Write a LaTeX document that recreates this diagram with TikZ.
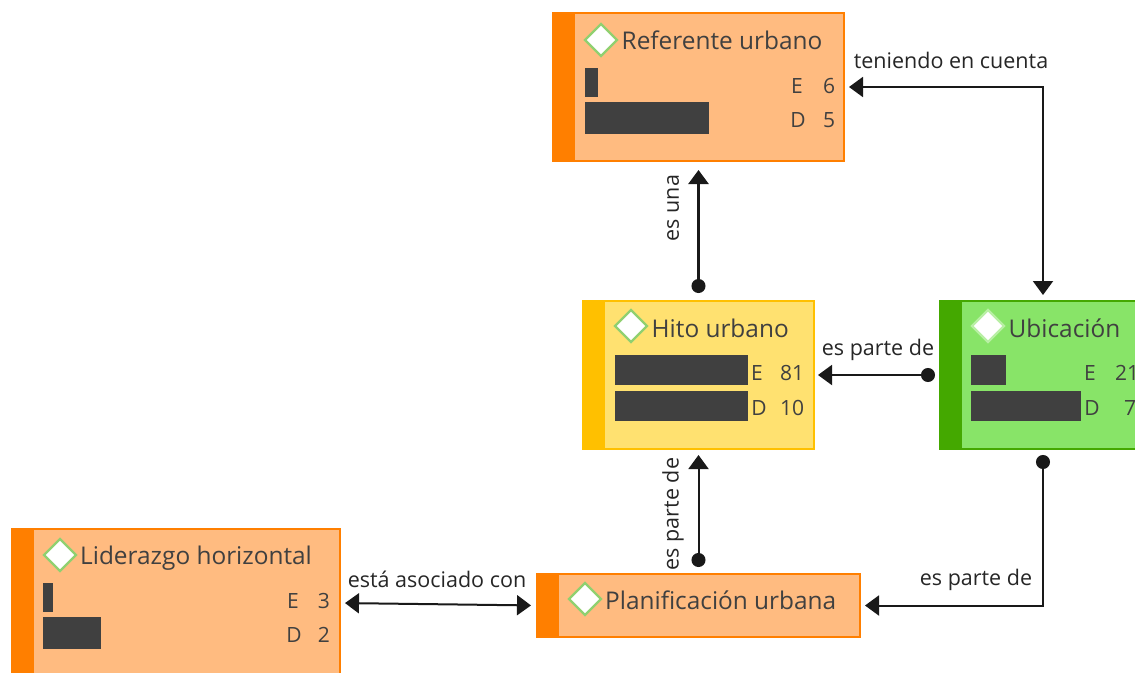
\documentclass[tikz,border=0pt]{standalone}
\usepackage{fontspec}
\setmainfont{Open Sans}
\usetikzlibrary{arrows.meta,shapes.geometric}
\definecolor{orf}{HTML}{FFBB80}
\definecolor{ors}{HTML}{FF7F00}
\definecolor{yef}{HTML}{FFE170}
\definecolor{yes}{HTML}{FFC000}
\definecolor{grf}{HTML}{88E468}
\definecolor{grs}{HTML}{44A800}
\definecolor{ink}{HTML}{404040}
\definecolor{dia}{HTML}{90D070}
\tikzset{
 x=1pt,y=-1pt,
 box/.style={rectangle,draw,line width=1.4pt,inner sep=0,outer sep=0},
 orbox/.style={box,fill=orf,draw=ors},
 yebox/.style={box,fill=yef,draw=yes},
 grbox/.style={box,fill=grf,draw=grs},
 stripe/.style={rectangle,inner sep=0,outer sep=0,minimum width=22pt},
 bar/.style={rectangle,fill=ink,inner sep=0,outer sep=0,anchor=north west},
 dmd/.style={diamond,draw=dia,fill=white,line width=2.4pt,minimum width=33pt,minimum height=33pt,inner sep=0},
 title/.style={anchor=west,inner sep=0,text=ink,font=\fontsize{24.4}{28}\selectfont},
 num/.style={inner sep=0,text=ink,font=\fontsize{21}{24}\selectfont},
 lab/.style={inner sep=0,text=black!85,font=\fontsize{21.5}{25}\selectfont},
 conn/.style={draw=black!90,line width=2pt},
 ptr/.style={conn,{Circle[length=14pt,width=14pt]}-{Triangle[length=14pt,width=20pt]}},
 both/.style={conn,{Triangle[length=14pt,width=20pt]}-{Triangle[length=14pt,width=20pt]}},
}
\begin{document}
\begin{tikzpicture}
\useasboundingbox (0,0) rectangle (1135,672);
\clip (0,0) rectangle (1135,672);
% boxes
\node[orbox,minimum width=291pt,minimum height=148pt] (ref) at (698.5,87) {};
\node[yebox,minimum width=231pt,minimum height=148pt] (hito) at (698.5,375) {};
\node[grbox,minimum width=206pt,minimum height=148pt] (ubi) at (1043,375) {};
\node[orbox,minimum width=328pt,minimum height=148pt] (lid) at (176,603) {};
\node[orbox,minimum width=323pt,minimum height=63pt] (plan) at (698.5,605.5) {};
% stripes
\node[stripe,fill=ors,minimum height=148pt] (s1) at (564,87) {};
\node[stripe,fill=yes,minimum height=148pt] (s2) at (594,375) {};
\node[stripe,fill=grs,minimum height=148pt] (s3) at (951,375) {};
\node[stripe,fill=ors,minimum height=148pt] (s4) at (23,603) {};
\node[stripe,fill=ors,minimum height=63pt] (s5) at (548,605.5) {};
% diamonds
\node[dmd] (d1) at (601,40) {};
\node[dmd] (d2) at (631,326) {};
\node[dmd,draw=grf!60!white] (d3) at (988,326) {};
\node[dmd] (d4) at (60,555) {};
\node[dmd] (d5) at (585,599) {};
% titles
\node[title] (t1) at (621.5,40) {Referente urbano};
\node[title] (t2) at (651.5,328) {Hito urbano};
\node[title] (t3) at (1008.5,328) {Ubicación};
\node[title] (t4) at (80,558) {Liderazgo horizontal};
\node[title] (t5) at (605,600) {Planificación urbana};
% bars
\node[bar,minimum width=13pt,minimum height=29pt] (b1) at (585,68) {};
\node[bar,minimum width=124pt,minimum height=32pt] (b2) at (585,102) {};
\node[bar,minimum width=133pt,minimum height=30pt] (b3) at (615,355) {};
\node[bar,minimum width=133pt,minimum height=30pt] (b4) at (615,391) {};
\node[bar,minimum width=35pt,minimum height=30pt] (b5) at (971,355) {};
\node[bar,minimum width=110pt,minimum height=30pt] (b6) at (971,391) {};
\node[bar,minimum width=10pt,minimum height=29pt] (b7) at (43,583) {};
\node[bar,minimum width=58pt,minimum height=32pt] (b8) at (43,617) {};
% counts
\node[num] (n1) at (797,86) {E};
\node[num] (n2) at (829,86) {6};
\node[num] (n3) at (798,120) {D};
\node[num] (n4) at (829,120) {5};
\node[num] (n5) at (757,373) {E};
\node[num] (n6) at (792,373) {81};
\node[num] (n7) at (759,408) {D};
\node[num] (n8) at (792,408) {10};
\node[num] (n9) at (1090,373) {E};
\node[num] (n10) at (1127,373) {21};
\node[num] (n11) at (1092,408) {D};
\node[num] (n12) at (1130,408) {7};
\node[num] (n13) at (293,601) {E};
\node[num] (n14) at (324,601) {3};
\node[num] (n15) at (294,635) {D};
\node[num] (n16) at (324,635) {2};
% connectors
\draw[ptr,line width=2.6pt,shorten <=8pt,shorten >=9pt] (hito.north) -- (ref.south);
\draw[ptr,shorten <=7pt,shorten >=6pt] (plan.north) -- (hito.south);
\draw[ptr,shorten <=5pt,shorten >=4pt] (ubi.west) -- (hito.east);
\draw[both,shorten <=5pt,shorten >=6pt] (ref.east) -| (ubi.north);
\draw[ptr,shorten <=6pt,shorten >=5pt] (ubi.south) |- (plan.east);
\draw[both,shorten <=5pt,shorten >=6pt] (lid.east) -- (plan.west);
% labels
\node[lab] (l1) at (951,60.5) {teniendo en cuenta};
\node[lab,rotate=90] (l2) at (673,208) {es una};
\node[lab] (l3) at (878,350) {es parte de};
\node[lab,rotate=90] (l4) at (673,514) {es parte de};
\node[lab] (l5) at (976,580) {es parte de};
\node[lab] (l6) at (437,579) {está asociado con};
\end{tikzpicture}
\end{document}
